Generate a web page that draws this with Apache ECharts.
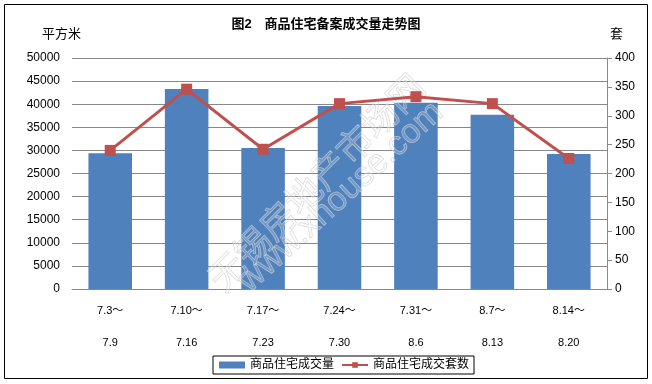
<!DOCTYPE html>
<html><head><meta charset="utf-8">
<script src="https://cdn.jsdelivr.net/npm/echarts@6/dist/echarts.min.js"></script>
<style>html,body{margin:0;padding:0;background:#fff}#c{width:652px;height:384px}</style>
</head><body><div id="c"></div>
<script>
const categories = ['7.3～\n\n7.9','7.10～\n\n7.16','7.17～\n\n7.23','7.24～\n\n7.30','7.31～\n\n8.6','8.7～\n\n8.13','8.14～\n\n8.20'];
const areaValues = [29400, 43300, 30500, 39600, 40300, 37700, 29200];
const unitValues = [240, 346, 242, 321, 333, 321, 226];
const leftTicks = [0, 50000, 5000];
const rightTicks = [0, 400, 50];
const FONT = "'Liberation Sans','Noto Sans CJK SC',sans-serif";
const CJK = "'Noto Sans CJK SC',sans-serif";
const chart = echarts.init(document.getElementById('c'));
chart.setOption({
  animation: false,
  textStyle: {fontFamily: FONT},
  title: {text: '图2　商品住宅备案成交量走势图', left: 'center', top: 13,
    textStyle: {fontSize: 13, fontWeight: 'bold', color: '#000', fontFamily: FONT}},
  grid: {left: 72, right: 45, top: 58, bottom: 95},
  legend: {
    left: 213, top: 356, width: 262,
    data: [{name: '商品住宅成交量', icon: 'rect'}, {name: '商品住宅成交套数'}],
    itemWidth: 26, itemHeight: 7, itemGap: 7,
    borderColor: '#000', borderWidth: 1, borderRadius: 0, padding: [3, 5, 3, 6],
    textStyle: {fontSize: 12, color: '#000', fontFamily: FONT}
  },
  xAxis: {
    type: 'category', data: categories,
    axisLine: {lineStyle: {color: '#888'}}, axisTick: {show: false},
    axisLabel: {fontSize: 11, color: '#000', lineHeight: 16, margin: 14, interval: 0}
  },
  yAxis: [
    {type: 'value', min: leftTicks[0], max: leftTicks[1], interval: leftTicks[2],
      axisLine: {show: false}, axisTick: {show: false},
      axisLabel: {fontSize: 12, color: '#000', margin: 12, formatter: v => String(v)},
      splitLine: {lineStyle: {color: '#888', width: 1}}},
    {type: 'value', min: rightTicks[0], max: rightTicks[1], interval: rightTicks[2],
      axisLine: {show: true, lineStyle: {color: '#888'}},
      axisTick: {show: true, length: 5, inside: false, lineStyle: {color: '#888'}},
      axisLabel: {fontSize: 12, color: '#000', margin: 8, formatter: v => String(v)},
      splitLine: {show: false}}
  ],
  series: [
    {name: '商品住宅成交量', type: 'bar', data: areaValues, barWidth: '57%',
      itemStyle: {color: '#4F81BD'}, yAxisIndex: 0},
    {name: '商品住宅成交套数', type: 'line', data: unitValues, yAxisIndex: 1,
      symbol: 'rect', symbolSize: 11, z: 60,
      lineStyle: {color: '#C0504D', width: 3}, itemStyle: {color: '#C0504D'}}
  ],
  graphic: [
    {type: 'rect', shape: {x: 4.5, y: 4.5, width: 643, height: 374},
      style: {fill: 'none', stroke: '#000', lineWidth: 1}, z: 100},
    {type: 'text', left: 42, top: 27, z: 100,
      style: {text: '平方米', fontSize: 13, fontFamily: CJK, fill: '#000'}},
    {type: 'text', left: 610, top: 27, z: 100,
      style: {text: '套', fontSize: 13, fontFamily: CJK, fill: '#000'}},
    {type: 'text', x: 316, y: 182, rotation: Math.PI / 4, z: 50,
      style: {text: '无锡房地产市场网', fontSize: 36, fontFamily: CJK,
        textAlign: 'center', textVerticalAlign: 'middle',
        fill: 'rgba(255,255,255,0.2)', stroke: 'rgba(200,200,200,0.7)', lineWidth: 0.8}},
    {type: 'text', x: 341, y: 197, rotation: 0.742, z: 50,
      style: {text: 'www.xhouse.com', fontSize: 34, fontFamily: "'Liberation Sans',sans-serif",
        textAlign: 'center', textVerticalAlign: 'middle',
        fill: 'rgba(255,255,255,0.2)', stroke: 'rgba(200,200,200,0.7)', lineWidth: 0.8}}
  ]
});
</script></body></html>
